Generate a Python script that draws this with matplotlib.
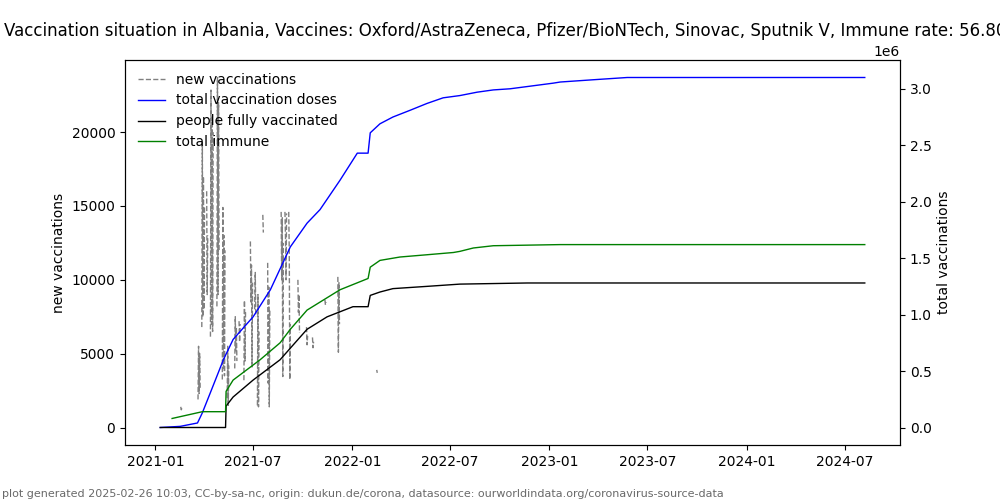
import numpy as np
import pandas as pd
import matplotlib
matplotlib.use("Agg")
import matplotlib.pyplot as plt

TITLE = ("Vaccination situation in Albania, Vaccines: Oxford/AstraZeneca, "
         "Pfizer/BioNTech, Sinovac, Sputnik V, Immune rate: 56.80%")
FOOTER = ("plot generated 2025-02-26 10:03, CC-by-sa-nc, origin: dukun.de/corona, "
          "datasource: ourworldindata.org/coronavirus-source-data")

# daily new vaccinations, reported in chunks (gaps in between are missing data)
new_vacc_chunks = [
    ("2021-02-17", [1400, 1200, 1300]),
    ("2021-03-21", [1900, 5500, 2300, 5000, 2600]),
    ("2021-03-28", [6800, 19300, 7500, 17000, 8000, 14900]),
    ("2021-04-06", [16000, 9000, 13000]),
    ("2021-04-13", [6150, 22850, 7000, 21000, 6500, 20000]),
    ("2021-04-25", [8200, 23700, 9000, 22000, 12000]),
    ("2021-05-05", [3250, 14900, 4000, 13000, 3500, 12000]),
    ("2021-05-14", [2000, 5500, 1500, 4200]),
    ("2021-05-28", [4000, 7500, 5200, 6800, 4500]),
    ("2021-06-05", [7200, 5800, 7000]),
    ("2021-06-14", [3200, 8600, 4500, 7800]),
    ("2021-06-26", [12600, 8500, 11000, 4100, 9800]),
    ("2021-07-04", [8000, 10500, 7500]),
    ("2021-07-09", [1500, 9000, 1400, 6500]),
    ("2021-07-19", [14400, 13200]),
    ("2021-07-28", [11150, 3000, 9500, 1400, 8000]),
    ("2021-08-22", [14600, 10000, 14200, 3450, 12500]),
    ("2021-08-29", [14600, 13000, 10000, 14500]),
    ("2021-09-05", [14600, 12000, 3250, 7000]),
    ("2021-09-22", [10000, 7800, 9000, 6400]),
    ("2021-10-08", [6800, 5600, 6200]),
    ("2021-10-19", [6100, 5400, 5800]),
    ("2021-11-11", [8650, 8300, 8500]),
    ("2021-12-05", [10200, 5100, 9800, 7000]),
    ("2022-02-15", [3900, 3700]),
]

# cumulative series
total_dates = ["2021-01-10", "2021-02-16", "2021-03-20", "2021-03-29", "2021-04-13", "2021-05-07",
               "2021-05-25", "2021-07-01", "2021-08-02", "2021-09-08", "2021-10-09", "2021-11-02",
               "2021-12-09", "2022-01-10", "2022-01-30", "2022-02-03", "2022-02-21", "2022-03-17",
               "2022-04-18", "2022-05-19", "2022-06-18", "2022-07-19", "2022-08-20", "2022-09-19",
               "2022-10-20", "2022-11-21", "2023-01-08", "2023-01-21", "2023-03-23", "2023-05-25",
               "2024-08-07"]
total_vals = [0.0, 0.01e6, 0.04e6, 0.13e6, 0.31e6, 0.60e6,
              0.78e6, 0.98e6, 1.22e6, 1.60e6, 1.81e6, 1.93e6,
              2.19e6, 2.43e6, 2.43e6, 2.61e6, 2.69e6, 2.75e6,
              2.81e6, 2.87e6, 2.92e6, 2.94e6, 2.97e6, 2.99e6,
              3.00e6, 3.02e6, 3.05e6, 3.06e6, 3.08e6, 3.10e6,
              3.10e6]

full_dates = ["2021-01-10", "2021-05-11", "2021-05-12", "2021-05-25", "2021-07-01", "2021-08-20",
              "2021-09-13", "2021-10-09", "2021-11-15", "2022-01-02", "2022-01-30", "2022-02-03",
              "2022-02-21", "2022-03-17", "2022-05-19", "2022-07-19", "2022-11-21", "2024-08-07"]
full_vals = [0.0, 0.0, 0.19e6, 0.27e6, 0.42e6, 0.60e6,
             0.73e6, 0.87e6, 0.98e6, 1.07e6, 1.07e6, 1.17e6,
             1.20e6, 1.23e6, 1.25e6, 1.27e6, 1.28e6, 1.28e6]

immune_dates = ["2021-02-01", "2021-03-29", "2021-05-11", "2021-05-12", "2021-05-25", "2021-07-14",
                "2021-08-20", "2021-09-08", "2021-10-09", "2021-12-09", "2022-01-30", "2022-02-03",
                "2022-02-21", "2022-03-30", "2022-05-19", "2022-07-07", "2022-07-19", "2022-08-13",
                "2022-09-19", "2023-01-21", "2024-08-07"]
immune_vals = [0.08e6, 0.14e6, 0.14e6, 0.32e6, 0.42e6, 0.60e6,
               0.75e6, 0.87e6, 1.04e6, 1.22e6, 1.32e6, 1.42e6,
               1.48e6, 1.51e6, 1.53e6, 1.55e6, 1.56e6, 1.59e6,
               1.61e6, 1.62e6, 1.62e6]

# build the daily new vaccinations series with NaN gaps
parts = []
for start, vals in new_vacc_chunks:
    idx = pd.date_range(start, periods=len(vals), freq="D")
    parts.append(pd.Series(vals, index=idx, dtype=float))
new_vacc = pd.concat(parts)
new_vacc = new_vacc.reindex(pd.date_range(new_vacc.index.min(), new_vacc.index.max(), freq="D"))

fig, ax1 = plt.subplots(figsize=(10, 5), dpi=100)
ax2 = ax1.twinx()

l1, = ax1.plot(new_vacc.index, new_vacc.values, color="gray", linestyle="--",
               linewidth=1, label="new vaccinations")
l2, = ax2.plot(pd.to_datetime(total_dates), total_vals, color="blue", linewidth=1,
               label="total vaccination doses")
l3, = ax2.plot(pd.to_datetime(full_dates), full_vals, color="black", linewidth=1,
               label="people fully vaccinated")
l4, = ax2.plot(pd.to_datetime(immune_dates), immune_vals, color="green", linewidth=1,
               label="total immune")

# left axis starts from zero like the right one
ymax = np.nanmax(new_vacc.values)
ax1.set_ylim(-0.05 * ymax, 1.05 * ymax)

ax1.set_ylabel("new vaccinations")
ax2.set_ylabel("total vaccinations")
ax1.set_title(TITLE)
ax2.legend(handles=[l1, l2, l3, l4], loc="upper left", frameon=False)

fig.text(0.002, 0.006, FOOTER, fontsize=8, color="dimgray")

fig.savefig("out.png", dpi=100)
